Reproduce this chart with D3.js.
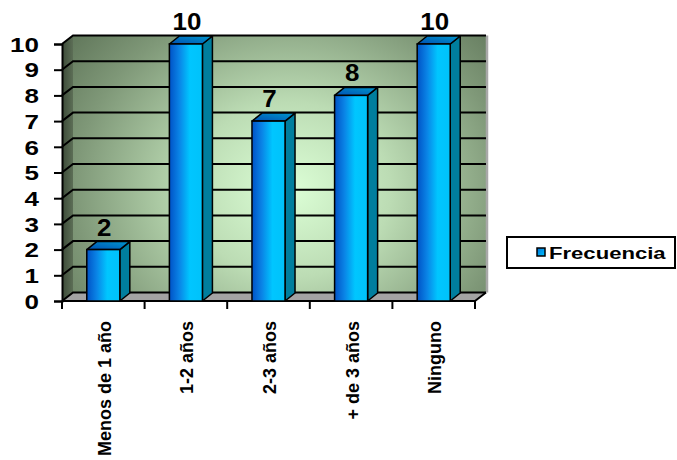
<!DOCTYPE html>
<html>
<head>
<meta charset="utf-8">
<script src="https://cdn.jsdelivr.net/npm/d3@7"></script>
<style>
  html, body { margin: 0; padding: 0; background: #ffffff; }
  svg { display: block; }
  text { font-family: Arial, "Liberation Sans", sans-serif; font-weight: bold; fill: #000; }
</style>
</head>
<body>
<svg id="chart" width="677" height="460"></svg>
<script>
// Data
const categories = ["Menos de 1 año", "1-2 años", "2-3 años", "+ de 3 años", "Ninguno"];
const values = [2, 10, 7, 8, 10];
const yTicks = [0, 1, 2, 3, 4, 5, 6, 7, 8, 9, 10];
const seriesName = "Frecuencia";

const svg = d3.select("#chart");
const SX = 1.3; // horizontal text stretch for axis and legend text

// Plot geometry (front plane) and depth offset
const plotLeft = 62, plotRight = 475, plotTop = 44, plotBottom = 301;
const DX = 11, DY = -8.5;       // wall / floor depth
const BDX = 10, BDY = -8;       // bar depth

const x = d3.scaleBand().domain(categories).range([plotLeft, plotRight]).paddingInner(0.6).paddingOuter(0.3);
const y = d3.scaleLinear().domain([0, 10]).range([plotBottom, plotTop]);

const defs = svg.append("defs");

// Back wall: radial green glow
const rg = defs.append("radialGradient").attr("id", "wallGrad")
  .attr("gradientUnits", "userSpaceOnUse")
  .attr("cx", 290).attr("cy", 190).attr("r", 250)
  .attr("gradientTransform", "translate(290,190) scale(1.15,1) translate(-290,-190)");
rg.append("stop").attr("offset", "0").attr("stop-color", "#dcffd6");
rg.append("stop").attr("offset", "0.35").attr("stop-color", "#bcdcb4");
rg.append("stop").attr("offset", "0.75").attr("stop-color", "#7f9878");
rg.append("stop").attr("offset", "1").attr("stop-color", "#5e7458");

const sg = defs.append("linearGradient").attr("id", "sideWallGrad").attr("x1", 0).attr("x2", 1).attr("y1", 0).attr("y2", 0);
sg.append("stop").attr("offset", "0").attr("stop-color", "#3c4a38");
sg.append("stop").attr("offset", "1").attr("stop-color", "#5c6e56");

const fg = defs.append("linearGradient").attr("id", "barFront").attr("x1", 0).attr("x2", 1).attr("y1", 0).attr("y2", 0);
fg.append("stop").attr("offset", "0").attr("stop-color", "#0052c6");
fg.append("stop").attr("offset", "0.3").attr("stop-color", "#0a84e6");
fg.append("stop").attr("offset", "0.62").attr("stop-color", "#00c6ff");
fg.append("stop").attr("offset", "1").attr("stop-color", "#00c2fa");

const tg = defs.append("linearGradient").attr("id", "barTop").attr("x1", 0).attr("x2", 1).attr("y1", 1).attr("y2", 0);
tg.append("stop").attr("offset", "0").attr("stop-color", "#0050b4");
tg.append("stop").attr("offset", "1").attr("stop-color", "#0098cc");

const lg = defs.append("linearGradient").attr("id", "legendSwatch").attr("x1", 0).attr("x2", 1).attr("y1", 0).attr("y2", 1);
lg.append("stop").attr("offset", "0").attr("stop-color", "#0070d8");
lg.append("stop").attr("offset", "1").attr("stop-color", "#00c6ff");

// Walls and floor
const g = svg.append("g");
g.append("rect")
  .attr("x", plotLeft + DX).attr("y", plotTop + DY)
  .attr("width", plotRight - plotLeft).attr("height", plotBottom - plotTop)
  .attr("fill", "url(#wallGrad)");
g.append("polygon")
  .attr("points", [[plotLeft, plotTop], [plotLeft + DX, plotTop + DY], [plotLeft + DX, plotBottom + DY], [plotLeft, plotBottom]].map(p => p.join(",")).join(" "))
  .attr("fill", "url(#sideWallGrad)");
g.append("polygon")
  .attr("points", [[plotLeft, plotBottom], [plotLeft + DX, plotBottom + DY], [plotRight + DX, plotBottom + DY], [plotRight, plotBottom]].map(p => p.join(",")).join(" "))
  .attr("fill", "#a3a3a3");
// Right edge of back wall
g.append("line")
  .attr("x1", plotRight + DX + 1).attr("x2", plotRight + DX + 1)
  .attr("y1", plotTop + DY).attr("y2", plotBottom + DY)
  .attr("stroke", "#a8a8a8").attr("stroke-width", 2.5);

// Gridlines across side wall and back wall
g.selectAll("path.grid").data(yTicks).join("path")
  .attr("class", "grid")
  .attr("d", d => `M${plotLeft},${y(d)} L${plotLeft + DX},${y(d) + DY} L${plotRight + DX},${y(d) + DY}`)
  .attr("fill", "none").attr("stroke", "#000").attr("stroke-width", 2);

// Value axis
const yAxis = d3.axisLeft(y).tickValues(yTicks).tickSize(8).tickPadding(6).tickFormat(d3.format("d"));
const ya = svg.append("g").attr("transform", `translate(${plotLeft},0)`).call(yAxis);
ya.select(".domain").attr("stroke", "#000").attr("stroke-width", 2);
ya.selectAll(".tick line").attr("stroke", "#000").attr("stroke-width", 2);
ya.selectAll(".tick text").each(function () {
  const t = d3.select(this);
  const xx = +t.attr("x") - 9;
  t.attr("x", null).attr("dy", "0.36em")
   .attr("transform", `translate(${xx},0) scale(${SX},1)`)
   .attr("font-size", 20).attr("font-family", "Arial, 'Liberation Sans', sans-serif").attr("font-weight", "bold");
});

// Category axis (front edge of floor)
const xEdges = categories.map(c => x(c) - x.step() * 0.3).concat([plotRight]);
svg.append("line").attr("x1", plotLeft).attr("x2", plotRight).attr("y1", plotBottom).attr("y2", plotBottom)
  .attr("stroke", "#000").attr("stroke-width", 2);
svg.append("line").attr("x1", plotRight).attr("x2", plotRight + DX).attr("y1", plotBottom).attr("y2", plotBottom + DY)
  .attr("stroke", "#000").attr("stroke-width", 2);
svg.selectAll("line.xtick").data(xEdges).join("line")
  .attr("class", "xtick")
  .attr("x1", d => d).attr("x2", d => d).attr("y1", plotBottom).attr("y2", plotBottom + 8)
  .attr("stroke", "#000").attr("stroke-width", 2);

svg.selectAll("text.xlab").data(categories).join("text")
  .attr("class", "xlab")
  .attr("transform", d => `translate(${x(d) + x.bandwidth() / 2 + 1},321) rotate(-90)`)
  .attr("text-anchor", "end").attr("dy", "0.36em")
  .attr("font-size", 18)
  .text(d => d);

// Bars
const bars = svg.selectAll("g.bar").data(values).join("g").attr("class", "bar");
bars.append("polygon") // side
  .attr("points", (d, i) => {
    const x1 = x(categories[i]) + x.bandwidth();
    return [[x1, y(d)], [x1 + BDX, y(d) + BDY], [x1 + BDX, y(0) + BDY], [x1, y(0)]].map(p => p.join(",")).join(" ");
  })
  .attr("fill", "#007e9e").attr("stroke", "#000").attr("stroke-width", 1.5).attr("stroke-linejoin", "round");
bars.append("polygon") // top
  .attr("points", (d, i) => {
    const x0 = x(categories[i]), x1 = x0 + x.bandwidth();
    return [[x0, y(d)], [x0 + BDX, y(d) + BDY], [x1 + BDX, y(d) + BDY], [x1, y(d)]].map(p => p.join(",")).join(" ");
  })
  .attr("fill", "url(#barTop)").attr("stroke", "#000").attr("stroke-width", 1.5).attr("stroke-linejoin", "round");
bars.append("rect") // front
  .attr("x", (d, i) => x(categories[i]))
  .attr("y", d => y(d))
  .attr("width", x.bandwidth())
  .attr("height", d => y(0) - y(d))
  .attr("fill", "url(#barFront)").attr("stroke", "#000").attr("stroke-width", 1.5);

// Value labels
svg.selectAll("text.vlab").data(values).join("text")
  .attr("class", "vlab")
  .attr("transform", (d, i) => `translate(${x(categories[i]) + x.bandwidth() / 2 + 1},${y(d) + BDY - 6}) scale(1.08,1)`)
  .attr("text-anchor", "middle")
  .attr("font-size", 24)
  .text(d => d);

// Legend
const leg = svg.append("g");
leg.append("rect").attr("x", 507).attr("y", 237).attr("width", 168).attr("height", 31)
  .attr("fill", "#fff").attr("stroke", "#000").attr("stroke-width", 2);
leg.append("rect").attr("x", 537).attr("y", 248).attr("width", 8).attr("height", 8)
  .attr("fill", "url(#legendSwatch)").attr("stroke", "#000").attr("stroke-width", 1.5);
leg.append("text")
  .attr("transform", `translate(549,259) scale(${SX},1)`)
  .attr("font-size", 17)
  .text(seriesName);
</script>
</body>
</html>
